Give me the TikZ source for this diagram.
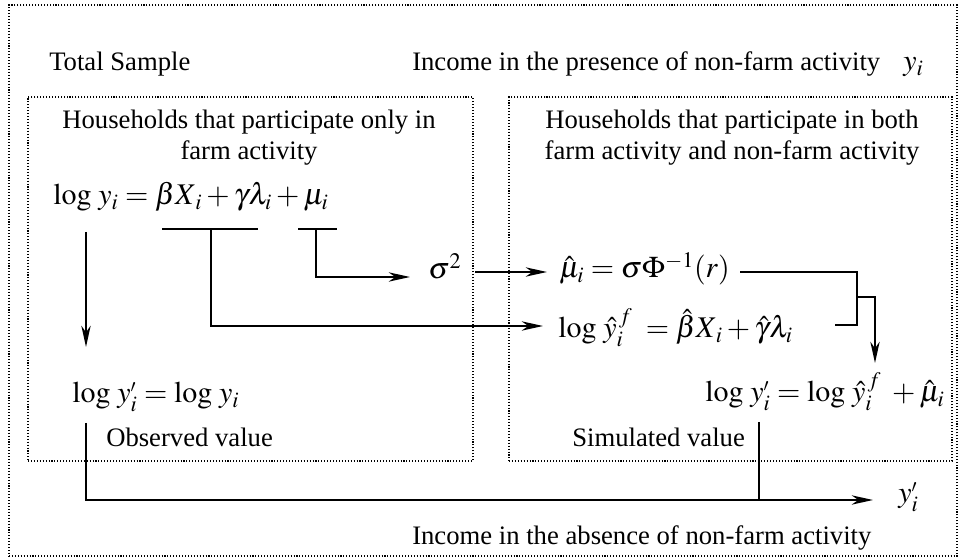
\documentclass[tikz,border=0pt]{standalone}
\usepackage{mathptmx}
\usepackage{fontspec}
\setmainfont{Liberation Serif}
\usetikzlibrary{arrows.meta}
\begin{document}
\begin{tikzpicture}[x=0.75pt,y=-0.75pt,
  txt/.style={inner sep=0pt,font=\fontsize{20}{23.25}\selectfont},
  mth/.style={inner sep=0pt,font=\fontsize{22.5}{26}\selectfont},
  dotbox/.style={draw,line width=0.8pt,dash pattern=on 0.8pt off 1.4pt,inner sep=0pt},
  ln/.style={line width=1.4pt},
  arr/.style={line width=1.4pt,-{Stealth[length=16pt,width=7pt,inset=5pt]}}]
\useasboundingbox (0,0) rectangle (961,559);
% boxes
\node[dotbox,minimum width=711pt,minimum height=413.25pt] (outer) at (483,280.5) {};
\node[dotbox,minimum width=333.75pt,minimum height=273pt] (lbox) at (250.5,279) {};
\node[dotbox,minimum width=332.25pt,minimum height=273pt] (rbox) at (730.5,279) {};
% top texts
\node[txt,anchor=base west] (ts) at (49,71) {Total Sample};
\node[txt,anchor=base west] (ip) at (412,71) {Income in the presence of non-farm activity};
\node[mth,anchor=base west] (yi) at (903,71) {$y_i$};
\node[txt,align=center,anchor=base] (lh) at (249,160) {Households that participate only in\\farm activity};
\node[txt,align=center,anchor=base] (rh) at (732,160) {Households that participate in both\\farm activity and non-farm activity};
% equations
\node[mth,anchor=base west] (e1) at (53,205) {$\log\, y_i = \beta X_{\,i} + \gamma\lambda_i + \mu_i$};
\node[mth,anchor=base west] (sig) at (428,279) {$\sigma^2$};
\node[mth,anchor=base west] (mu) at (559,278) {$\hat{\mu}_i = \sigma\Phi^{-1}(r)$};
\node[mth,anchor=base west] (yf) at (558,338) {$\log\, \hat{y}_i^{\,f}\; = \hat{\beta} X_{\,i} + \hat{\gamma}\lambda_i$};
\node[mth,anchor=base west] (ys) at (705,402) {$\log\, y_i^{\scriptscriptstyle\prime} = \log\, \hat{y}_i^{\,f}\; + \hat{\mu}_i$};
\node[mth,anchor=base west] (yo) at (72,403) {$\log\, y_i^{\scriptscriptstyle\prime} = \log\, y_i$};
\node[txt,anchor=base west] (ov) at (106,447) {Observed value};
\node[txt,anchor=base west] (sv) at (572,447) {Simulated value};
\node[mth,anchor=base west] (yp) at (898,503) {$y_i^{\scriptscriptstyle\prime}$};
\node[txt,anchor=base west] (ia) at (412,545) {Income in the absence of non-farm activity};
% underline brackets
\coordinate (u1a) at (162,229); \coordinate (u1b) at (258,229); \coordinate (u1m) at (211,229);
\coordinate (u2a) at (298,229); \coordinate (u2b) at (337,229); \coordinate (u2m) at (316,229);
\draw[ln] (u1a) -- (u1b);
\draw[ln] (u2a) -- (u2b);
\coordinate (yfin) at (543,326);
\coordinate (sigin) at (410,277);
\draw[arr] (u1m) |- (yfin);
\draw[arr] (u2m) |- (sigin);
\coordinate (sigout) at (475,272);
\coordinate (muin) at (547,272);
\draw[arr] (sigout) -- (muin);
% merge bracket
\coordinate (mr) at (740,272); \coordinate (jt) at (857,272);
\coordinate (jb) at (857,325); \coordinate (yr) at (835,325);
\draw[ln] (mr) -- (jt) -- (jb) -- (yr);
\coordinate (jm) at (857,297);
\coordinate (je) at (875,363);
\draw[arr] (jm) -| (je);
% left down arrow
\coordinate (d1) at (86,232); \coordinate (d2) at (86,347);
\draw[arr] (d1) -- (d2);
% bottom lines
\coordinate (b1) at (86,423); \coordinate (b2) at (759,422); \coordinate (be) at (873,500);
\draw[arr] (b1) |- (be);
\draw[ln] (b2) -- (759,500);
\end{tikzpicture}
\end{document}
